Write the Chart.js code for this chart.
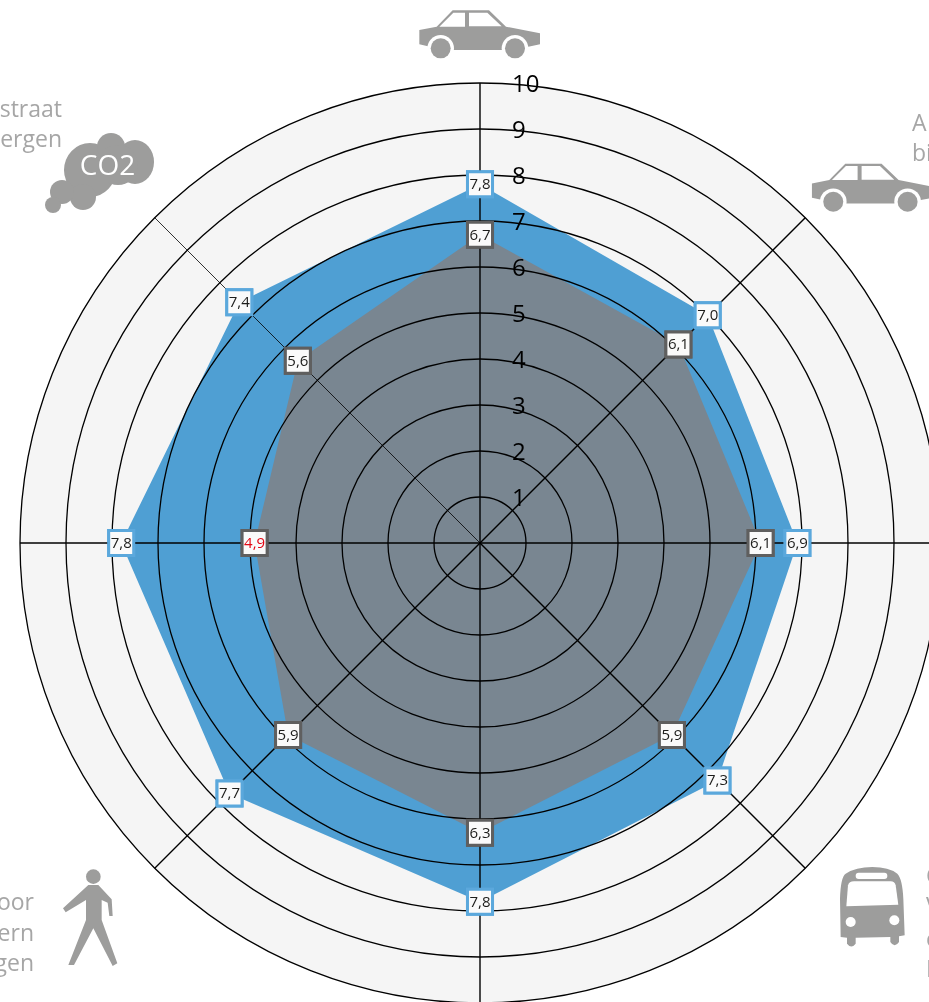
<!DOCTYPE html>
<html><head><meta charset="utf-8">
<style>
html,body{margin:0;padding:0;width:929px;height:1002px;overflow:hidden;background:#fff}
#wrap{position:absolute;left:0;top:0;width:929px;height:1002px;overflow:hidden}
#c{position:absolute;left:0;top:0}
svg{position:absolute;left:0;top:0}
</style>
<script src="https://cdn.jsdelivr.net/npm/chart.js@4"></script>
</head><body>
<div id="wrap">
<canvas id="c" width="960" height="1086" style="width:960px;height:1086px"></canvas>
<svg width="929" height="1002" viewBox="0 0 929 1002">
  <defs>
    <g id="car">
      <path fill="#9d9d9c" d="M58 90 L110 80 L158 31 L267 31 L318 80 L420 100 L420 133 L385 140 L305 150 L155 150 L90 140 L58 133 Z"/>
      <path fill="#fff" d="M118 80 L160 38 L195 38 L195 80 Z M207 38 L262 38 L305 79 L207 79 Z"/>
      <circle cx="122" cy="145" r="40" fill="#fff"/><circle cx="345" cy="145" r="40" fill="#fff"/>
      <circle cx="122" cy="145" r="30" fill="#9d9d9c"/><circle cx="345" cy="145" r="30" fill="#9d9d9c"/>
    </g>
  </defs>
  <g transform="translate(400 0) scale(.33333)"><use href="#car"/></g>
  <g transform="translate(792.6 153.4) scale(.33333)"><use href="#car"/></g>
  <g fill="#9d9d9c">
    <ellipse cx="90" cy="170" rx="26" ry="27"/><ellipse cx="135" cy="162" rx="19" ry="22"/>
    <circle cx="111" cy="147" r="14"/><circle cx="118" cy="165" r="20"/>
    <circle cx="83" cy="197" r="13"/><circle cx="62" cy="192" r="12"/><circle cx="53" cy="205" r="8"/>
  </g>
  <text x="107.5" y="175" text-anchor="middle" fill="#fff" font-family="Open Sans" font-size="28">CO2</text>
  <g transform="translate(0 800) scale(.33333)" fill="#9d9d9c">
    <circle cx="280" cy="230" r="22"/>
    <path d="M265 255 L295 255 L335 298 L338 348 L328 348 L323 308 L305 300 L305 360 L352 490 L338 498 L280 385 L222 495 L205 495 L258 360 L258 300 L197 337 L189 325 Z"/>
  </g>
  <g transform="translate(729 802) scale(.33333)">
    <path fill="#9d9d9c" d="M335 405 L333 290 Q335 225 350 215 Q380 195 430 195 Q480 195 505 215 Q520 230 523 290 L527 400 L510 403 L510 420 Q497 440 484 420 L484 405 L380 407 L380 425 Q367 442 354 425 L354 407 Z"/>
    <path fill="#fff" d="M352 313 L357 250 Q360 238 375 238 L485 238 Q497 238 500 250 L508 308 Z"/>
    <rect x="380" y="212" width="95" height="19" rx="9" fill="#fff"/>
    <circle cx="365" cy="360" r="15" fill="#fff"/><circle cx="496" cy="355" r="15" fill="#fff"/>
  </g>
</svg>
</div>
<script>
const categories = ['', '', '', '', '', '', '', ''];
const outerValues = [7.8, 7.0, 6.9, 7.3, 7.8, 7.7, 7.8, 7.4];
const innerValues = [6.7, 6.1, 6.1, 5.9, 6.3, 5.9, 4.9, 5.6];
const redLabelValue = 4.9;
const tickValues = [1, 2, 3, 4, 5, 6, 7, 8, 9, 10];
const outerColor = '#4f9fd3', innerColor = '#798691';

const disc = {
  id: 'disc',
  beforeDatasetsDraw(chart) {
    const ctx = chart.ctx, s = chart.scales.r;
    ctx.save();
    ctx.fillStyle = '#f5f5f5';
    ctx.beginPath();
    ctx.arc(s.xCenter, s.yCenter, s.getDistanceFromCenterForValue(s.max), 0, Math.PI * 2);
    ctx.fill();
    ctx.restore();
  }
};

const overlay = {
  id: 'overlay',
  afterDraw(chart) {
    const ctx = chart.ctx, scale = chart.scales.r;
    ctx.save();
    ctx.textBaseline = 'middle'; ctx.textAlign = 'left'; ctx.fillStyle = '#000';
    ctx.font = '24px "Open Sans"';
    scale.ticks.forEach(t => {
      if (tickValues.includes(t.value)) {
        ctx.fillText(String(t.value), scale.xCenter + 32, scale.yCenter - scale.getDistanceFromCenterForValue(t.value) + 2);
      }
    });
    chart.data.datasets.forEach((ds, di) => {
      const meta = chart.getDatasetMeta(di);
      meta.data.forEach((pt, i) => {
        pt.draw(ctx, chart.chartArea);
        const v = ds.data[i];
        ctx.font = '15px "Open Sans"';
        ctx.textAlign = 'center';
        ctx.fillStyle = (di === 0 && v === redLabelValue) ? '#e30613' : '#1d1d1b';
        ctx.fillText(v.toFixed(1).replace('.', ','), pt.x, pt.y + 0.5);
      });
    });
    ctx.fillStyle = '#a6a6a6';
    ctx.font = '23px "Open Sans"';
    ctx.textBaseline = 'alphabetic';
    ctx.textAlign = 'right';
    [['straat', 62, 117], ['ergen', 62, 147], ['oor', 34, 910], ['ern', 34, 941], ['gen', 34, 971]]
      .forEach(([s, x, y]) => ctx.fillText(s, x, y));
    ctx.textAlign = 'left';
    [['A', 912, 131], ['bi', 912, 161], ['G', 926, 884], ['V', 926, 914], ['o', 926, 947], ['I', 926, 977]]
      .forEach(([s, x, y]) => ctx.fillText(s, x, y));
    ctx.restore();
  }
};

new Chart(document.getElementById('c'), {
  type: 'radar',
  plugins: [disc, overlay],
  data: {
    labels: categories,
    datasets: [
      { label: 'inner', data: innerValues, order: 0, fill: true, backgroundColor: innerColor, borderWidth: 0,
        pointStyle: 'rect', pointRadius: 17.7, pointBorderWidth: 3, pointBackgroundColor: '#fafafa', pointBorderColor: '#5f5f5f' },
      { label: 'outer', data: outerValues, order: 1, fill: true, backgroundColor: outerColor, borderWidth: 0,
        pointStyle: 'rect', pointRadius: 17.7, pointBorderWidth: 3, pointBackgroundColor: '#fafafa', pointBorderColor: '#5ba8dc' }
    ]
  },
  options: {
    responsive: false, animation: false, devicePixelRatio: 1,
    layout: { padding: { left: 20, right: 20, top: 83, bottom: 83 } },
    plugins: { legend: { display: false }, tooltip: { enabled: false } },
    elements: { line: { tension: 0 } },
    scales: {
      r: {
        min: 0, max: 10,
        ticks: { stepSize: 1, display: false },
        pointLabels: { display: false },
        angleLines: { display: true, color: '#000', lineWidth: c => c.index === 7 ? 0.8 : 1.4 },
        grid: { circular: true, color: '#000', lineWidth: 1.3, z: 1 }
      }
    }
  }
});
</script>
</body></html>
